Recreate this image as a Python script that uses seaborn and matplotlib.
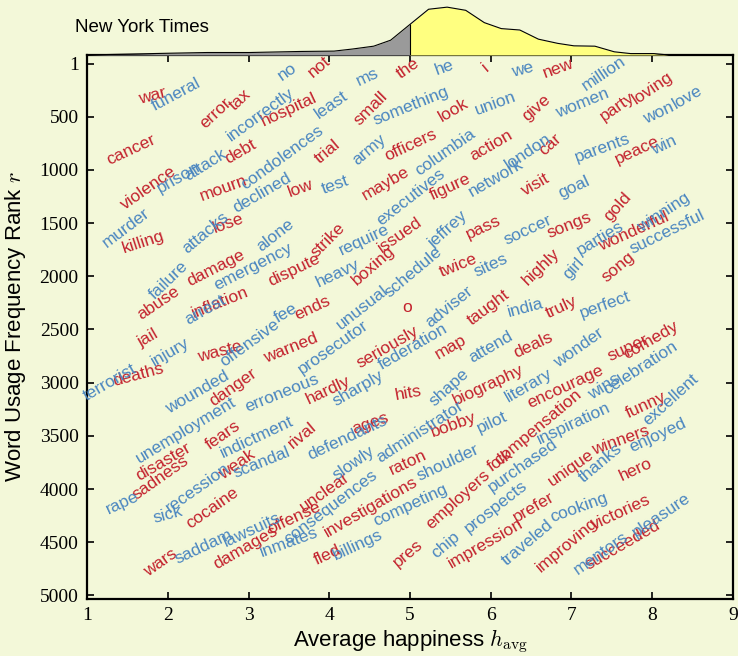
import numpy as np
import pandas as pd
import matplotlib
matplotlib.use("Agg")
import matplotlib.pyplot as plt
import seaborn as sns

# words whose usage rose/fell (red) and (blue), placed at (h_avg, rank)
red_words = ["war", "error", "tax", "not", "the", "hospital", "small", "cancer", "debt", "trial",
             "officers", "violence", "mourn", "low", "maybe", "figure", "action", "car", "visit", "peace",
             "i", "new", "look", "give", "party", "loving", "killing", "lose", "strike", "issued",
             "pass", "songs", "gold", "wonderful", "damage", "dispute", "boxing", "twice", "highly", "song",
             "abuse", "inflation", "ends", "o", "taught", "truly", "jail", "waste", "warned", "seriously",
             "map", "deals", "super", "comedy", "deaths", "danger", "hardly", "hits", "biography", "encourage",
             "fears", "rival", "ages", "bobby", "compensation", "funny", "winners", "disaster", "sadness", "weak",
             "raton", "folk", "unique", "hero", "cocaine", "unclear", "investigations", "employers", "prefer", "victories",
             "offense", "damages", "fled", "wars", "pres", "impression", "improving", "succeeded"]
red_h = [1.81, 2.59, 2.90, 3.87, 4.97, 3.50, 4.51, 1.54, 2.90, 3.98,
         5.01, 1.76, 2.69, 3.64, 4.70, 5.50, 6.00, 6.74, 6.56, 7.82,
         5.94, 6.84, 5.54, 6.56, 7.57, 8.01, 1.70, 2.75, 3.98, 4.88,
         5.91, 6.97, 7.57, 7.77, 2.59, 3.56, 4.55, 5.60, 6.62, 7.58,
         1.88, 2.65, 3.79, 4.97, 5.97, 6.87, 1.76, 2.65, 3.52, 4.72,
         5.50, 6.52, 7.70, 7.98, 1.64, 2.81, 3.98, 4.98, 5.97, 6.93,
         2.68, 3.67, 4.51, 5.54, 6.59, 7.92, 7.61, 1.95, 1.91, 2.86,
         4.97, 6.12, 6.99, 7.80, 2.55, 3.95, 4.51, 5.59, 6.53, 7.61,
         3.56, 2.96, 3.98, 1.91, 4.98, 5.94, 6.95, 7.63]
red_rank = [305, 465, 343, 33, 42, 437, 418, 813, 832, 832,
            766, 1170, 1170, 1170, 1123, 1161, 766, 766, 1142, 813,
            33, 42, 437, 418, 409, 230, 1678, 1499, 1659, 1612,
            1537, 1518, 1349, 1584, 1922, 1941, 1894, 1894, 1913, 1913,
            2251, 2251, 2298, 2298, 2289, 2289, 2580, 2712, 2674, 2665,
            2665, 2646, 2674, 2599, 2928, 3041, 3069, 3097, 3022, 3041,
            3492, 3492, 3379, 3398, 3420, 3210, 3539, 3745, 3896, 3774,
            3755, 3727, 3802, 3821, 4178, 4027, 4168, 4103, 4168, 4216,
            4272, 4554, 4620, 4695, 4601, 4507, 4526, 4526]

blue_words = ["funeral", "no", "ms", "incorrectly", "least", "something", "attack", "condolences", "army", "prison",
              "declined", "test", "executives", "columbia", "network", "london", "goal", "parents", "win", "he",
              "we", "million", "union", "women", "won", "love", "murder", "attacks", "alone", "require",
              "jeffrey", "soccer", "parties", "winning", "successful", "failure", "emergency", "heavy", "schedule", "sites",
              "girl", "arrest", "offensive", "fee", "unusual", "adviser", "india", "perfect", "injury", "prosecutor",
              "federation", "attend", "wonder", "terrorist", "wounded", "erroneous", "sharply", "shape", "literary", "wins",
              "celebration", "excellent", "unemployment", "indictment", "defendants", "administrator", "pilot", "inspiration", "enjoyed", "scandal",
              "slowly", "shoulder", "purchased", "thanks", "rape", "recession", "sick", "consequences", "competing", "prospects",
              "cooking", "pleasure", "lawsuits", "saddam", "inmates", "billings", "chip", "traveled", "mentors"]
blue_h = [2.10, 3.48, 4.47, 3.15, 4.02, 5.01, 2.47, 3.42, 4.49, 2.13,
          3.17, 4.08, 5.01, 5.44, 6.06, 6.46, 7.03, 7.39, 8.14, 5.42,
          6.40, 7.40, 6.06, 7.14, 8.08, 8.44, 1.48, 2.47, 3.33, 4.43,
          5.47, 6.46, 7.36, 8.14, 8.19, 2.01, 3.06, 4.10, 5.04, 6.00,
          7.03, 2.47, 3.02, 3.46, 4.41, 5.48, 6.43, 7.42, 2.03, 4.05,
          5.04, 6.00, 7.09, 1.29, 2.37, 3.42, 4.36, 5.48, 6.47, 7.40,
          7.86, 8.23, 2.22, 3.11, 4.23, 5.13, 6.02, 7.03, 8.07, 3.17,
          4.30, 5.47, 6.40, 7.36, 1.44, 2.37, 2.00, 4.02, 5.01, 6.06,
          7.09, 8.11, 3.05, 2.44, 3.50, 4.36, 5.44, 6.46, 7.36]
blue_rank = [296, 80, 127, 484, 390, 399, 954, 888, 813, 1076,
             1217, 1142, 1255, 832, 1076, 832, 1161, 794, 766, 42,
             61, 89, 371, 371, 465, 315, 1546, 1593, 1612, 1659,
             1565, 1565, 1640, 1405, 1584, 2035, 1913, 1969, 1960, 1894,
             1922, 2317, 2630, 2345, 2298, 2289, 2298, 2270, 2712, 2665,
             2665, 2665, 2674, 2993, 3088, 3097, 3050, 3041, 3022, 3041,
             2862, 3163, 3445, 3511, 3520, 3463, 3370, 3379, 3492, 3755,
             3755, 3755, 3774, 3755, 4131, 3990, 4243, 4168, 4150, 4168,
             4178, 4243, 4385, 4545, 4498, 4526, 4526, 4507, 4601]

# happiness distribution shown above the panel
dist_h = [1.0, 2.02, 2.49, 3.01, 3.65, 4.06, 4.29, 4.55, 4.76, 5.0, 5.23, 5.46,
          5.69, 5.92, 6.13, 6.36, 6.59, 6.83, 7.03, 7.29, 7.53, 7.73, 8.02, 8.20]
dist_f = [0, 5, 7, 7, 10, 11, 17, 25, 42, 87, 130, 136,
          127, 92, 75, 71, 45, 33, 26, 25, 9, 4, 4, 0]

x_ticks = [1, 2, 3, 4, 5, 6, 7, 8, 9]
y_ticks = [1, 500, 1000, 1500, 2000, 2500, 3000, 3500, 4000, 4500, 5000]

# per-word tilt (degrees), default 28
tilt = {"war": 15, "no": 35, "not": 40, "ms": 25, "the": 35, "error": 43, "tax": 43, "incorrectly": 36,
        "hospital": 25, "least": 35, "small": 45, "something": 22, "he": 20, "i": 40, "we": 15, "new": 20,
        "million": 34, "look": 30, "union": 20, "give": 41, "women": 22, "party": 35, "loving": 34, "won": 25,
        "love": 30, "cancer": 25, "attack": 32, "debt": 30, "condolences": 36, "trial": 40, "army": 40,
        "officers": 25, "columbia": 35, "action": 30, "london": 34, "car": 42, "parents": 20, "peace": 25,
        "win": 25, "violence": 35, "prison": 30, "mourn": 20, "declined": 30, "low": 20, "test": 20,
        "maybe": 30, "executives": 38, "figure": 25, "network": 30, "visit": 30, "goal": 25, "murder": 37,
        "killing": 18, "attacks": 40, "lose": 20, "alone": 38, "strike": 45, "require": 25, "issued": 35,
        "jeffrey": 42, "pass": 25, "soccer": 25, "songs": 22, "gold": 48, "parties": 31, "winning": 33,
        "wonderful": 24, "successful": 26, "failure": 44, "damage": 27, "emergency": 27, "dispute": 26,
        "heavy": 25, "boxing": 41, "schedule": 40, "twice": 22, "sites": 25, "highly": 44, "girl": 47,
        "song": 40, "abuse": 34, "inflation": 22, "arrest": 30, "offensive": 36, "fee": 30, "ends": 25,
        "unusual": 38, "o": 0, "adviser": 39, "taught": 37, "india": 15, "truly": 25, "perfect": 20,
        "jail": 30, "injury": 30, "waste": 15, "warned": 22, "prosecutor": 35, "seriously": 30,
        "federation": 30, "map": 30, "attend": 30, "deals": 25, "wonder": 35, "super": 25, "comedy": 30,
        "terrorist": 30, "deaths": 15, "wounded": 30, "danger": 35, "erroneous": 22, "hardly": 25,
        "sharply": 30, "hits": 10, "shape": 42, "biography": 25, "literary": 30, "encourage": 25,
        "wins": 33, "celebration": 33, "excellent": 42, "unemployment": 31, "fears": 35, "indictment": 25,
        "rival": 40, "defendants": 25, "ages": 20, "administrator": 33, "bobby": 20, "pilot": 25,
        "compensation": 40, "inspiration": 25, "funny": 25, "winners": 20, "enjoyed": 25, "disaster": 30,
        "sadness": 35, "weak": 35, "scandal": 22, "slowly": 35, "raton": 25, "shoulder": 25, "folk": 35,
        "purchased": 35, "unique": 35, "thanks": 40, "hero": 25, "rape": 25, "recession": 35, "sick": 15,
        "cocaine": 35, "unclear": 35, "consequences": 37, "investigations": 30, "competing": 25,
        "employers": 42, "prospects": 38, "prefer": 30, "cooking": 20, "victories": 25, "pleasure": 34,
        "lawsuits": 25, "offense": 25, "saddam": 25, "damages": 30, "inmates": 20, "fled": 25,
        "billings": 25, "wars": 35, "pres": 40, "chip": 40, "impression": 30, "traveled": 40,
        "improving": 40, "mentors": 35, "succeeded": 30}

words = pd.concat([
    pd.DataFrame({"word": red_words, "h": red_h, "rank": red_rank, "group": "red"}),
    pd.DataFrame({"word": blue_words, "h": blue_h, "rank": blue_rank, "group": "blue"}),
], ignore_index=True)
dist = pd.DataFrame({"h": dist_h, "f": dist_f})

bg = "#f3f8d9"
colors = {"red": "#c3222d", "blue": "#4a86c0"}

sns.set_style("ticks")
plt.rcParams["font.family"] = ["Liberation Sans", "DejaVu Sans"]
plt.rcParams["mathtext.fontset"] = "cm"
for key in ["text.color", "axes.labelcolor", "xtick.color", "ytick.color"]:
    plt.rcParams[key] = "black"

fig = plt.figure(figsize=(7.38, 6.56), dpi=100, facecolor=bg)
ax = fig.add_axes([0.1179, 0.0869, 0.8753, 0.8293])
ax_top = fig.add_axes([0.1179, 0.9162, 0.8753, 0.0838])
ax.set_facecolor(bg)

for _, r in words.iterrows():
    ax.text(r["h"], r["rank"], r["word"], color=colors[r["group"]], fontsize=12.5,
            rotation=tilt.get(r["word"], 28), rotation_mode="anchor",
            ha="center", va="center")

ax.set_xlim(1, 9)
ax.set_ylim(5033, -80)
ax.set_xticks(x_ticks)
ax.set_yticks(y_ticks)
ax.tick_params(direction="in", length=5, width=1.2, top=True, right=True, labelsize=14, pad=6)
for lab in ax.get_xticklabels() + ax.get_yticklabels():
    lab.set_fontfamily("Liberation Serif")
for sp in ax.spines.values():
    sp.set_linewidth(1.6)
    sp.set_color("black")
ax.set_xlabel(r"Average happiness $h_{\rm avg}$", fontsize=16, labelpad=2)
ax.set_ylabel(r"Word Usage Frequency Rank $r$", fontsize=16, labelpad=8)

# marginal distribution
sns.lineplot(data=dist, x="h", y="f", ax=ax_top, color="black", lw=0.8)
ax_top.fill_between(dist["h"], dist["f"], where=dist["h"] <= 5, color="#9a9a9a", lw=0)
ax_top.fill_between(dist["h"], dist["f"], where=dist["h"] >= 5, color="#ffff80", lw=0)
ax_top.vlines(5, 0, dist.loc[dist["h"] == 5, "f"].iloc[0], color="black", lw=0.8)
ax_top.set_xlim(1, 9)
ax_top.set_ylim(0, max(dist_f) / 0.87)
ax_top.axis("off")

fig.text(75 / 738, 1 - 27 / 656, "New York Times", fontsize=13.5, va="center", ha="left")

fig.savefig("out.png", dpi=100, facecolor=bg)
